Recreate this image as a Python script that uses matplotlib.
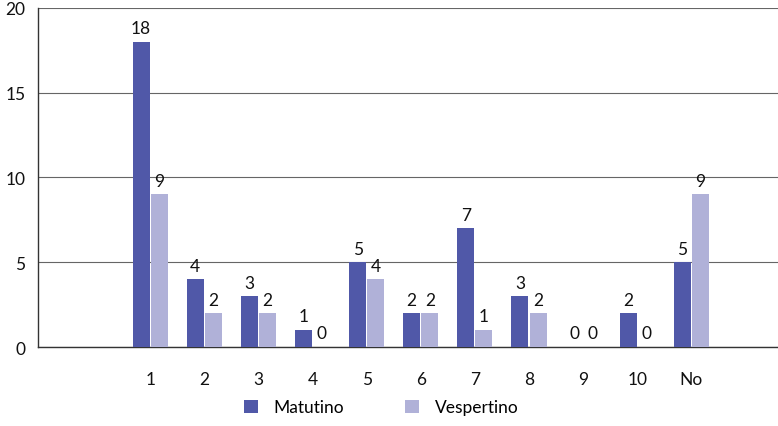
import matplotlib

matplotlib.use('Agg')
import matplotlib.pyplot as plt
import numpy as np

categories = ['1', '2', '3', '4', '5', '6', '7', '8', '9', '10', 'No']
matutino = [18, 4, 3, 1, 5, 2, 7, 3, 0, 2, 5]
vespertino = [9, 2, 2, 0, 4, 2, 1, 2, 0, 0, 9]
y_ticks = [0, 5, 10, 15, 20]

dark = '#5058A8'
light = '#B0B1D8'

plt.rcParams['font.family'] = ['Lato', 'DejaVu Sans']

fig = plt.figure(figsize=(7.78, 4.27), dpi=100)
ax = fig.add_axes([0.049, 0.185, 0.951, 0.794])

x = np.arange(len(categories))
w = 0.315
gap = 0.01
b1 = ax.bar(x - w / 2 - gap, matutino, width=w, color=dark, label='Matutino', zorder=3)
b2 = ax.bar(x + w / 2 + gap, vespertino, width=w, color=light, label='Vespertino', zorder=3)

for bars, vals in ((b1, matutino), (b2, vespertino)):
    for rect, v in zip(bars, vals):
        ax.annotate(str(v), (rect.get_x() + rect.get_width() / 2, v),
                    xytext=(0, 4), textcoords='offset points',
                    ha='center', va='bottom', fontsize=12.5, color='#111111')

ax.set_xlim(-2.07, 11.6)
ax.set_ylim(0, 20)
ax.set_yticks(y_ticks)
ax.set_xticks(x)
ax.set_xticklabels(categories)
ax.tick_params(axis='both', length=0, labelsize=12.5, colors='#111111')
ax.tick_params(axis='x', pad=17)
ax.tick_params(axis='y', pad=9)

ax.grid(axis='y', color='#666666', linewidth=0.8, zorder=0)
for s in ['top', 'right']:
    ax.spines[s].set_visible(False)
ax.spines['left'].set_color('#333333')
ax.spines['bottom'].set_color('#333333')
ax.spines['left'].set_linewidth(1)
ax.spines['bottom'].set_linewidth(1)

fig.legend(handles=[b1, b2], loc='lower center', bbox_to_anchor=(0.49, -0.012),
           ncol=2, frameon=False, fontsize=12.5, handlelength=0.8, handleheight=0.8,
           columnspacing=3.5, handletextpad=0.9)

fig.savefig('out.png', dpi=100)
